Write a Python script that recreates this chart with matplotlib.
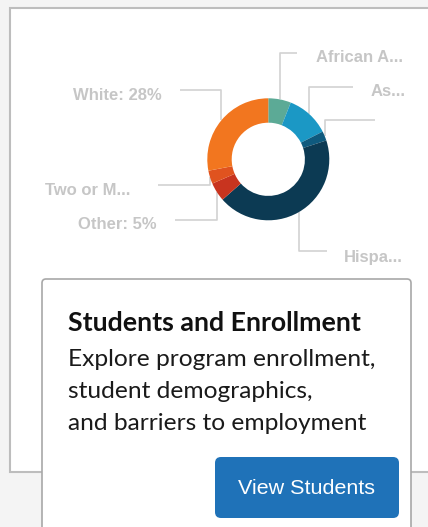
import matplotlib
matplotlib.use("Agg")
import matplotlib.pyplot as plt
from matplotlib.patches import Rectangle, FancyBboxPatch
import numpy as np

# ---- data ----
categories = ["African American", "Asian", "Native American", "Hispanic", "Other", "Two or More", "White"]
shares = [6, 11.5, 2.5, 43.5, 5, 3.5, 28]
label_texts = ["African A...", "As...", "", "Hispa...", "Other: 5%", "Two or M...", "White: 28%"]
colors = ["#5caa96", "#1b98c5", "#0f5a7e", "#0c3a53", "#c8341f", "#e0531f", "#f2761f"]

title = "Students and Enrollment"
body_lines = ["Explore program enrollment,", "student demographics,", "and barriers to employment"]
button_text = "View Students"

W, H = 428, 527
fig = plt.figure(figsize=(W / 100, H / 100), dpi=100)
fig.patch.set_facecolor("#f4f4f4")

ax = fig.add_axes([0, 0, 1, 1])
ax.set_xlim(0, W)
ax.set_ylim(H, 0)
ax.axis("off")

# outer card
ax.add_patch(Rectangle((10.5, 8), 450, 464, facecolor="white", edgecolor="#bdbdbd", lw=1.5, zorder=1))

# donut axes
cx, cy, R = 268.3, 159.3, 61
ax_pie = fig.add_axes([(cx - R) / W, (H - cy - R) / H, 2 * R / W, 2 * R / H], zorder=3)
wedges, _ = ax_pie.pie(shares, colors=colors, startangle=90, counterclock=False, radius=1,
                       wedgeprops=dict(width=0.4, linewidth=0))
ax_pie.set_xlim(-1, 1)
ax_pie.set_ylim(-1, 1)
ax_pie.axis("off")

# leader lines and labels (layout)
elbow_y = [53, 87, 120, 251, 220, 185, 90]
end_x = [297, 353, 375, 327, 175, 158, 180]
text_x = [403, 406, 0, 403, 157, 130, 161.5]
text_base = [62.5, 96, 0, 262, 229, 195, 100]

line_col = "#d2d2d2"
text_col = "#c6c6c6"
for w, ey, ex, tx, tb, lab in zip(wedges, elbow_y, end_x, text_x, text_base, label_texts):
    mid = np.deg2rad((w.theta1 + w.theta2) / 2)
    p = ax_pie.transData.transform((np.cos(mid), np.sin(mid)))
    ax_x, ax_y = ax.transData.inverted().transform(p)
    ax.plot([ax_x, ax_x, ex], [ax_y, ey, ey], color=line_col, lw=1.2, zorder=2, solid_capstyle="butt")
    if lab:
        ax.text(tx, tb, lab, ha="right", va="baseline", color=text_col, fontsize=12,
                fontweight="bold", family="Liberation Sans", zorder=2)

# inner card
ax.add_patch(FancyBboxPatch((42, 279), 369, 300, boxstyle="round,pad=0,rounding_size=4",
                            facecolor="white", edgecolor="#a8a8a8", lw=1.2, zorder=4))

renderer = fig.canvas.get_renderer()

def fit(x, y, s, width, **kw):
    t = ax.text(x, y, s, fontsize=10, **kw)
    w = t.get_window_extent(renderer).width
    t.set_fontsize(10 * width / w)
    return t

fit(68.5, 331, title, 295, ha="left", va="baseline", color="#111111", fontweight="bold",
    family="Lato", zorder=5)
t1 = fit(68.5, 366.5, body_lines[0], 307, ha="left", va="baseline", color="#1a1a1a",
         family="Lato", zorder=5)
fs = t1.get_fontsize()
for line, yb in zip(body_lines[1:], [398, 429.5]):
    ax.text(68.5, yb, line, fontsize=fs, ha="left", va="baseline", color="#1a1a1a",
            family="Lato", zorder=5)

# button
ax.add_patch(FancyBboxPatch((215, 457), 184, 61, boxstyle="round,pad=0,rounding_size=6",
                            facecolor="#1f72b8", edgecolor="none", zorder=5))
fit(306.5, 494.5, button_text, 137, ha="center", va="baseline", color="white",
    family="Liberation Sans", zorder=6)

fig.savefig("out.png", dpi=100, facecolor=fig.get_facecolor())
